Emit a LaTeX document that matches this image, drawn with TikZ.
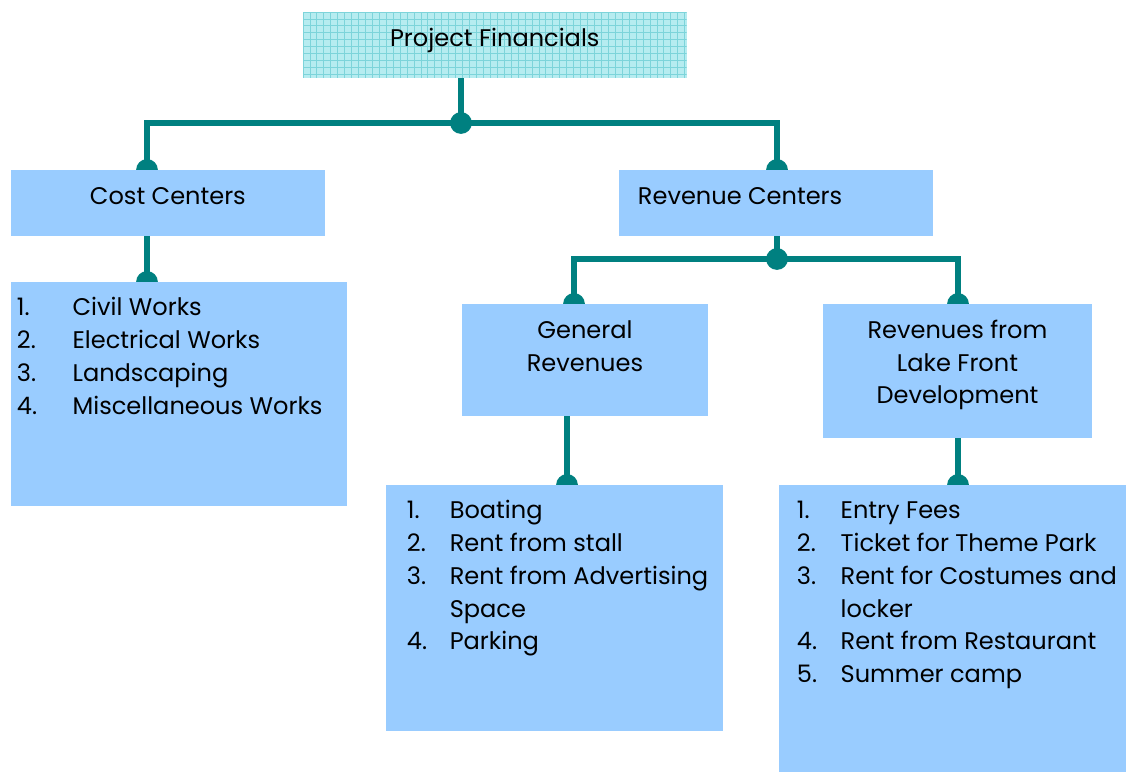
\documentclass[tikz,border=0pt]{standalone}
\usepackage{fontspec}
\setmainfont{Poppins}
\usetikzlibrary{backgrounds}

\definecolor{boxblue}{RGB}{153,204,255}
\definecolor{topfill}{RGB}{182,236,240}
\definecolor{topgrid}{RGB}{125,212,218}
\definecolor{linkteal}{RGB}{0,128,128}

\tikzset{
  blk/.style={fill=boxblue, anchor=north west, inner sep=0pt, outer sep=0pt},
  conn/.style={draw=linkteal, line width=3.7pt},
  knob/.style={fill=linkteal}
}

\begin{document}
\begin{tikzpicture}[x=0.02cm, y=-0.02cm, font=\fontsize{13.7}{18.7}\selectfont]

		\useasboundingbox (0,0) rectangle (1128,774);

		% top box
		\node [blk, fill=topfill,
		       path picture={\draw [topgrid, line width=0.5pt] (path picture bounding box.south west) grid [step=3.95pt] (path picture bounding box.north east);}]
		      (fin) at (303,12) {\parbox[t][37.4pt][t]{218.3pt}{\centering\vspace*{6.4pt}\strut Project Financials}};

		% second level
		\node [blk] (cost) at (11,170) {\parbox[t][37.4pt][t]{178.6pt}{\centering\vspace*{6.4pt}\strut Cost Centers}};
		\node [blk] (rev) at (619,170) {\parbox[t][37.4pt][t]{178.6pt}{\leftskip=10.8pt\vspace*{6.4pt}\strut Revenue Centers}};

		% third level
		\node [blk] (genrev) at (462,304) {\parbox[t][63.5pt][t]{140pt}{\centering\vspace*{6.4pt}\strut General\\ Revenues}};
		\node [blk] (lakerev) at (823,304) {\parbox[t][76.5pt][t]{153.1pt}{\centering\vspace*{6.4pt}\strut Revenues from\\ Lake Front\\ Development}};

		% lists
		\node [blk] (costlist) at (11,282) {\parbox[t][127.6pt][t]{191.1pt}{\raggedright\leftskip=3.4pt\vspace*{6pt}\strut
			\makebox[31.7pt][l]{1.}Civil Works\\
			\makebox[31.7pt][l]{2.}Electrical Works\\
			\makebox[31.7pt][l]{3.}Landscaping\\
			\makebox[31.7pt][l]{4.}Miscellaneous Works}};
		\node [blk] (genlist) at (386,485) {\parbox[t][140pt][t]{191.6pt}{\raggedright\leftskip=11.9pt\vspace*{6pt}\strut
			\makebox[24.4pt][l]{1.}Boating\\
			\makebox[24.4pt][l]{2.}Rent from stall\\
			\makebox[24.4pt][l]{3.}Rent from Advertising\\
			\hspace*{24.4pt}Space\\
			\makebox[24.4pt][l]{4.}Parking}};
		\node [blk] (lakelist) at (779,485) {\parbox[t][163.3pt][t]{197.3pt}{\raggedright\leftskip=10.2pt\vspace*{6pt}\strut
			\makebox[24.9pt][l]{1.}Entry Fees\\
			\makebox[24.9pt][l]{2.}Ticket for Theme Park\\
			\makebox[24.9pt][l]{3.}Rent for Costumes and\\
			\hspace*{24.9pt}locker\\
			\makebox[24.9pt][l]{4.}Rent from Restaurant\\
			\makebox[24.9pt][l]{5.}Summer camp}};

		% junctions and end dots
		\coordinate (j1) at (461,123);
		\coordinate (j2) at (777,259);
		\coordinate (dc1) at (147,170);
		\coordinate (dr1) at (777,170);
		\coordinate (dc2) at (147,282);
		\coordinate (dg1) at (574,304);
		\coordinate (dl1) at (958,304);
		\coordinate (dg2) at (567,485);
		\coordinate (dl2) at (958,485);

		\begin{pgfonlayer}{background}
			\draw [conn] (fin.south -| j1) -- (j1);
			\draw [conn] (dc1) |- (j1) -| (dr1);
			\draw [conn] (cost.south -| dc2) -- (dc2);
			\draw [conn] (rev.south -| j2) -- (j2);
			\draw [conn] (dg1) |- (j2) -| (dl1);
			\draw [conn] (genrev.south -| dg2) -- (dg2);
			\draw [conn] (lakerev.south -| dl2) -- (dl2);
			\foreach \d in {dc1,dr1,dc2,dg1,dl1,dg2,dl2}
				\fill [knob] (\d) circle (6.2pt);
		\end{pgfonlayer}
		\fill [knob] (j1) circle (6.2pt);
		\fill [knob] (j2) circle (6.2pt);

\end{tikzpicture}
\end{document}
